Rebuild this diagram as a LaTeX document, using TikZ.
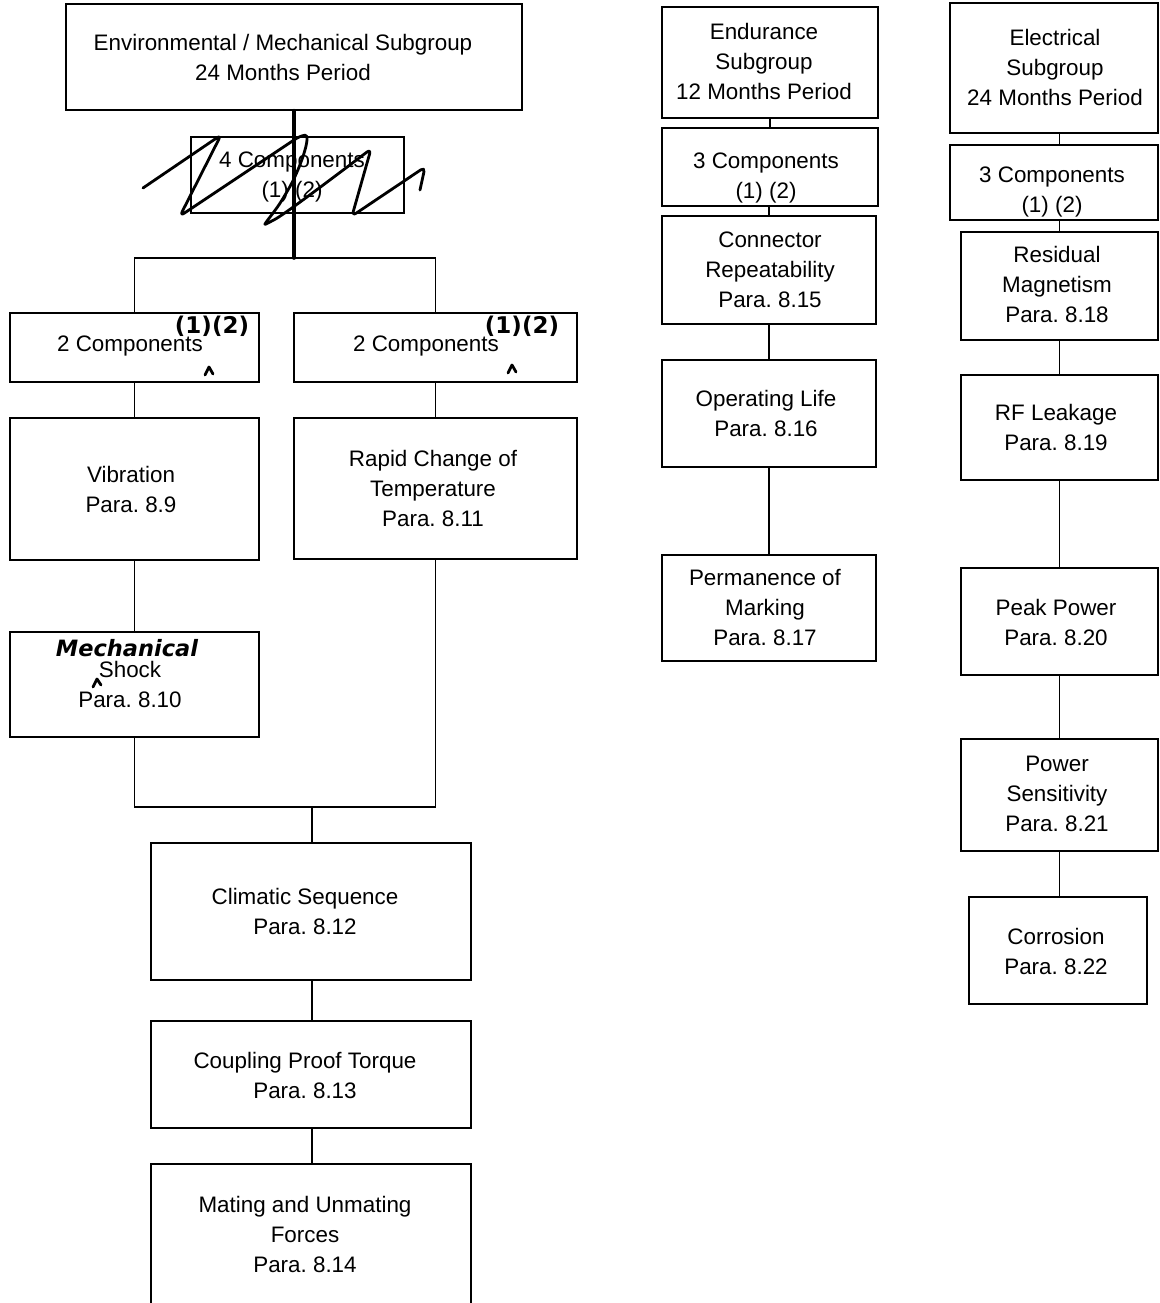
\documentclass[tikz,border=0pt]{standalone}
\usepackage{fontspec}
\setmainfont{Liberation Sans}
\newfontfamily\handfont{DejaVu Sans}
\usetikzlibrary{fit}
\frenchspacing
\tikzset{
  box/.style={draw, line width=1.3pt, inner sep=0pt},
  txt/.style={align=center, inner sep=0pt, yshift=1.8pt, font=\frenchspacing\fontsize{22.4}{30}\selectfont},
  link/.style={line width=1.3pt},
  thickmark/.style={line width=3.6pt, line cap=round},
  hand/.style={line width=2.8pt, line cap=round, line join=round},
  handtxt/.style={inner sep=0pt, font=\handfont\bfseries\fontsize{23}{26}\selectfont},
}
\begin{document}
\begin{tikzpicture}[x=1pt,y=-1pt]
\useasboundingbox (0,0) rectangle (1159,1303);
\clip (0,0) rectangle (1159,1303);
% ---------- left column boxes ----------
\node[box, fit={(66,4) (522,110)}] (env) {};
\node[box, fit={(191,137) (404,213)}] (c4) {};
\node[box, fit={(10,313) (259,382)}] (L2) {};
\node[box, fit={(294,313) (577,382)}] (R2) {};
\node[box, fit={(10,418) (259,560)}] (vib) {};
\node[box, fit={(294,418) (577,559)}] (rapid) {};
\node[box, fit={(10,632) (259,737)}] (shock) {};
\node[box, fit={(151,843) (471,980)}] (clim) {};
\node[box, fit={(151,1021) (471,1128)}] (coup) {};
\node[box, fit={(151,1164) (471,1330)}] (mate) {};
% ---------- endurance column ----------
\node[box, fit={(662,7) (878,118)}] (endu) {};
\node[box, fit={(662,128) (878,206)}] (e3) {};
\node[box, fit={(662,216) (876,324)}] (conn) {};
\node[box, fit={(662,360) (876,467)}] (oper) {};
\node[box, fit={(662,555) (876,661)}] (perm) {};
% ---------- electrical column ----------
\node[box, fit={(950,3) (1158,133)}] (elec) {};
\node[box, fit={(950,145) (1158,220)}] (el3) {};
\node[box, fit={(961,232) (1158,340)}] (resid) {};
\node[box, fit={(961,375) (1158,480)}] (rfl) {};
\node[box, fit={(961,568) (1158,675)}] (peak) {};
\node[box, fit={(961,739) (1158,851)}] (psens) {};
\node[box, fit={(969,897) (1147,1004)}] (corr) {};
% ---------- texts ----------
\node[txt] (envt) at (283,59) {Environmental / Mechanical Subgroup\\24 Months Period};
\node[txt] (c4t) at (292,179) {4 Components\\(1) (2)};
\node[txt] (L2t) at (130,348) {2 Components};
\node[txt] (R2t) at (426,348) {2 Components};
\node[txt] (vibt) at (131,491) {Vibration\\Para. 8.9};
\node[txt] (rapidt) at (433,490) {Rapid Change of\\Temperature\\Para. 8.11};
\node[txt] (shockt) at (130,686) {Shock\\Para. 8.10};
\node[txt] (climt) at (305,913) {Climatic Sequence\\Para. 8.12};
\node[txt] (coupt) at (305,1077) {Coupling Proof Torque\\Para. 8.13};
\node[txt] (matet) at (305,1236) {Mating and Unmating\\Forces\\Para. 8.14};
\node[txt] (endut) at (764,63) {Endurance\\Subgroup\\12 Months Period};
\node[txt] (e3t) at (766,180) {3 Components\\(1) (2)};
\node[txt] (connt) at (770,272) {Connector\\Repeatability\\Para. 8.15};
\node[txt] (opert) at (766,415) {Operating Life\\Para. 8.16};
\node[txt] (permt) at (765,609) {Permanence of\\Marking\\Para. 8.17};
\node[txt] (elect) at (1055,69) {Electrical\\Subgroup\\24 Months Period};
\node[txt] (el3t) at (1052,194) {3 Components\\(1) (2)};
\node[txt] (residt) at (1057,286) {Residual\\Magnetism\\Para. 8.18};
\node[txt] (rflt) at (1056,429) {RF Leakage\\Para. 8.19};
\node[txt] (peakt) at (1056,624) {Peak Power\\Para. 8.20};
\node[txt] (psenst) at (1057,796) {Power\\Sensitivity\\Para. 8.21};
\node[txt] (corrt) at (1056,953) {Corrosion\\Para. 8.22};
% ---------- connectors ----------
\coordinate (j1) at (294,258);
\coordinate (j2) at (312,807);
\draw[thickmark] (env.south) -- (j1);
\draw[link] (L2.north) |- (j1) -| (R2.north);
\draw[link] (L2) -- (vib);
\draw[link] (R2) -- (rapid);
\draw[link] (vib) -- (shock);
\draw[link] (shock.south) |- (j2) -| (rapid.south);
\draw[link] (j2) -- (clim.north -| j2);
\draw[link] (clim.south -| j2) -- (coup.north -| j2);
\draw[link] (coup.south -| j2) -- (mate.north -| j2);
\draw[link] (endu) -- (e3);
\draw[link] (e3.south -| conn.north) -- (conn.north);
\draw[link] (conn) -- (oper);
\draw[link] (oper) -- (perm);
\draw[link] (resid.north |- elec.south) -- (resid.north |- el3.north);
\draw[link] (resid.north |- el3.south) -- (resid.north);
\draw[link] (resid) -- (rfl);
\draw[link] (rfl) -- (peak);
\draw[link] (peak) -- (psens);
\draw[link] (psens.south) -- (psens.south |- corr.north);
% ---------- handwritten marks ----------
\draw[hand, rounded corners=5pt] (143,188) -- (221,135) -- (180,216) -- (300,136)
  .. controls (312,134) and (300,170) .. (285,195)
  .. controls (275,212) and (262,226) .. (270,222)
  .. controls (285,214) and (330,180) .. (371,149)
  -- (352,216) -- (425,167) -- (420,190);
\node[handtxt] (hw1) at (212,326) {(1)(2)};
\node[handtxt] (hw2) at (522,326) {(1)(2)};
\node[handtxt, font=\handfont\bfseries\itshape\fontsize{22.5}{26}\selectfont] (hw3) at (127,648) {Mechanical};
\draw[hand] (205,375) -- (209,367) -- (213,374);
\draw[hand] (508,373) -- (512,365) -- (516,372);
\draw[hand] (93,687) -- (97,679) -- (101,685);
\end{tikzpicture}
\end{document}
